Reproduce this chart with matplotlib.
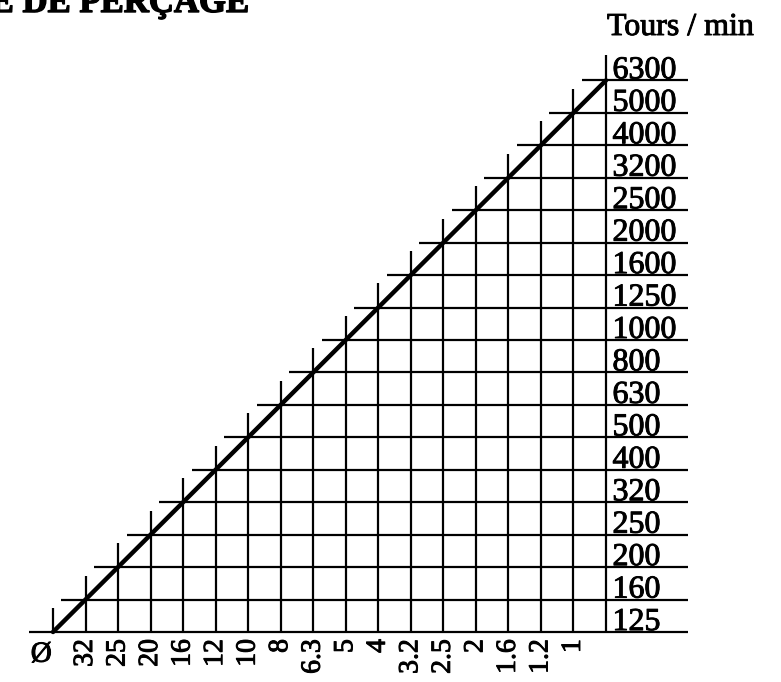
import matplotlib
matplotlib.use("Agg")
import matplotlib.pyplot as plt
import matplotlib.patheffects as pe

# Data
diameters = ["32", "25", "20", "16", "12", "10", "8", "6.3", "5", "4",
             "3.2", "2.5", "2", "1.6", "1.2", "1"]
speeds = [125, 160, 200, 250, 320, 400, 500, 630, 800, 1000, 1250, 1600,
          2000, 2500, 3200, 4000, 5000, 6300]
title = "ABAQUE DE PERÇAGE"
unit_label = "Tours / min"
diam_symbol = "Ø"

W, H = 781, 682
fig = plt.figure(figsize=(W / 100, H / 100), dpi=100)
ax = fig.add_axes([0, 0, 1, 1])

x0_px, y0_px = 53, 632
ux, uy = 32.53, 32.45
ax.set_xlim(-x0_px / ux, (W - x0_px) / ux)
ax.set_ylim(-(H - y0_px) / uy, y0_px / uy)
ax.axis("off")

serif = ["Liberation Serif", "DejaVu Serif"]
bold_fx = [pe.withStroke(linewidth=0.7, foreground="black")]
n = len(speeds) - 1          # 17 grid steps
right_end = (688 - x0_px) / ux
ext = 0.74
lw = 1.6

# vertical lines (one per diameter column, Ø at 0, right border at n)
for k in range(n + 1):
    top = k + ext if k < n else k + 0.78
    ax.plot([k, k], [0, top], color="black", lw=lw, solid_capstyle="butt")

# horizontal lines (one per speed)
for j in range(len(speeds)):
    ax.plot([j - ext, right_end], [j, j], color="black", lw=lw,
            solid_capstyle="butt")

# diagonal
ax.plot([0, n], [0, n], color="black", lw=3.2, solid_capstyle="round")

# speed labels
for j, s in enumerate(speeds):
    ax.text(n + 0.2, j + 0.06, str(s), fontsize=23, family=serif,
            ha="left", va="baseline", path_effects=bold_fx)

# diameter labels
for k, d in enumerate(diameters, start=1):
    ax.text(k, -0.22, d, fontsize=20, family=serif, rotation=90,
            ha="center", va="top", path_effects=bold_fx)
ax.text(-0.36, -0.3, diam_symbol, fontsize=21, family=serif,
        ha="center", va="top", path_effects=bold_fx)

# unit label
ax.text((607 - x0_px) / ux, (y0_px - 35) / uy, unit_label, fontsize=23,
        family=serif, ha="left", va="baseline", path_effects=bold_fx)

# title (partially cut off at top-left like the reference)
fig.text(250 / W, 1 - 12 / H, title, fontsize=25, family=serif,
         fontweight="bold", ha="right", va="baseline",
         path_effects=[pe.withStroke(linewidth=1.0, foreground="black")])

fig.savefig("out.png", dpi=100, facecolor="white")
